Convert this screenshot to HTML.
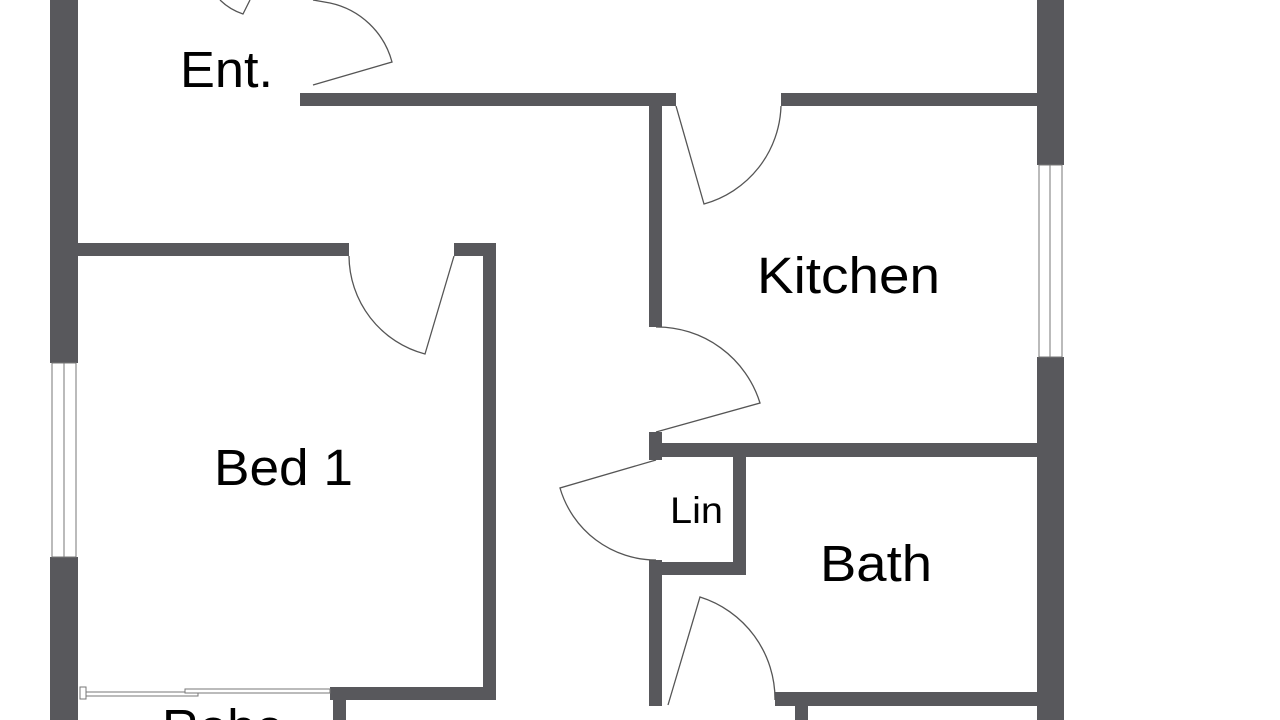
<!DOCTYPE html>
<html><head><meta charset="utf-8"><style>
html,body{margin:0;padding:0;background:#fff;}
svg{display:block;}
text{font-family:"Liberation Sans",sans-serif;fill:#000;}
</style></head><body>
<svg width="1280" height="720" viewBox="0 0 1280 720" xmlns="http://www.w3.org/2000/svg">
<rect width="1280" height="720" fill="#fff"/>
<g fill="#58585c">
<rect x="50" y="0" width="28" height="363"/>
<rect x="50" y="557" width="28" height="163"/>
<rect x="1037" y="0" width="27" height="165"/>
<rect x="1037" y="357" width="27" height="363"/>
<rect x="300" y="93" width="376" height="13"/>
<rect x="781" y="93" width="256" height="13"/>
<rect x="649" y="93" width="13" height="234"/>
<rect x="649" y="432" width="13" height="28"/>
<rect x="649" y="443" width="388" height="14"/>
<rect x="733" y="457" width="13" height="118"/>
<rect x="649" y="562" width="97" height="13"/>
<rect x="649" y="560" width="13" height="146"/>
<rect x="775" y="692" width="262" height="14"/>
<rect x="795" y="706" width="13" height="14"/>
<rect x="78" y="243" width="271" height="13"/>
<rect x="454" y="243" width="42" height="13"/>
<rect x="483" y="243" width="13" height="457"/>
<rect x="330" y="687" width="166" height="13"/>
<rect x="333" y="700" width="13" height="20"/>
</g>
<g fill="#fff" stroke="#777" stroke-width="1">
<rect x="52" y="363" width="24" height="194"/>
<line x1="64" y1="363" x2="64" y2="557"/>
<rect x="1039" y="165" width="23" height="192"/>
<line x1="1050" y1="165" x2="1050" y2="357"/>
</g>
<g fill="#fff" stroke="#777" stroke-width="1">
<rect x="86" y="692" width="112" height="4"/>
<rect x="185" y="689" width="145" height="4"/>
<rect x="80" y="687" width="6" height="12"/>
</g>
<g fill="none" stroke="#555" stroke-width="1.3">
<path d="M313 85 L392 62 A82 82 0 0 0 330 3 L313 0"/>
<path d="M220 0 A60 60 0 0 0 243 14 L250 0"/>
<path d="M676 106 L704 204 A105 105 0 0 0 781 106"/>
<path d="M656 432 L760 403 A108 108 0 0 0 656 327"/>
<path d="M656 460 L560 488 A100 100 0 0 0 656 560"/>
<path d="M668 705 L700 597 A107 107 0 0 1 775 700"/>
<path d="M454 256 L425 354 A102 102 0 0 1 349 256"/>
</g>
<text x="180" y="87" font-size="51" textLength="93" lengthAdjust="spacingAndGlyphs">Ent.</text>
<text x="757" y="293" font-size="51" textLength="183" lengthAdjust="spacingAndGlyphs">Kitchen</text>
<text x="214" y="485" font-size="51" textLength="139" lengthAdjust="spacingAndGlyphs">Bed 1</text>
<text x="670" y="523" font-size="37" textLength="53" lengthAdjust="spacingAndGlyphs">Lin</text>
<text x="820" y="581" font-size="51" textLength="112" lengthAdjust="spacingAndGlyphs">Bath</text>
<text x="162" y="745" font-size="51">Robe</text>
</svg>
</body></html>
